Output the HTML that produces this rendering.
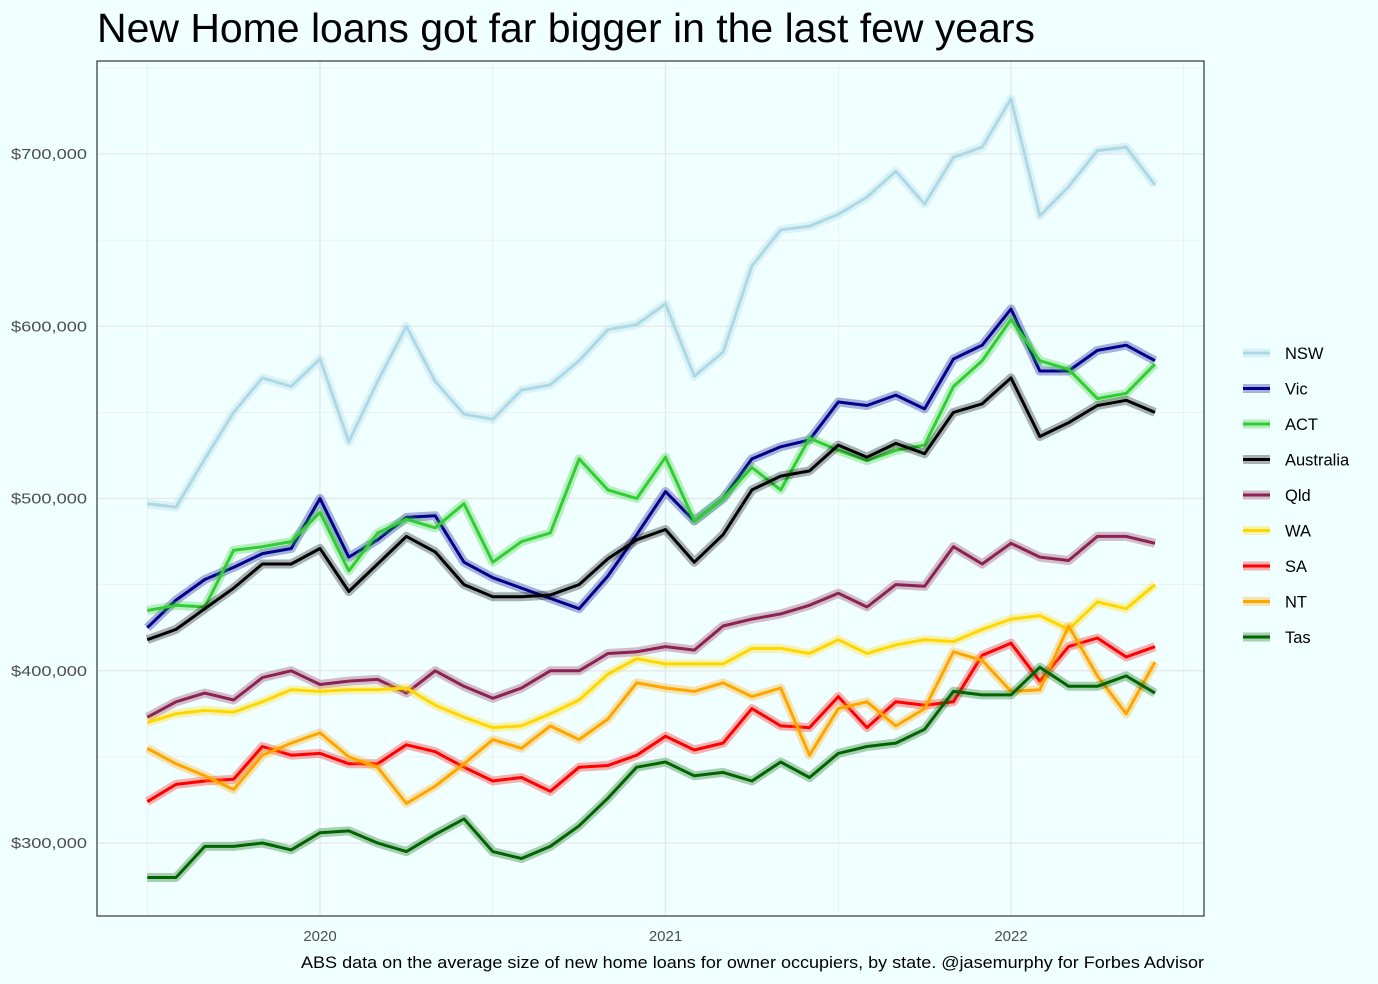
<!DOCTYPE html>
<html><head><meta charset="utf-8"><style>
body{margin:0;background:#f0ffff;}
svg{display:block;font-family:"Liberation Sans",sans-serif;}
</style></head><body>
<svg id="chart" width="1378" height="984" viewBox="0 0 1378 984" xmlns="http://www.w3.org/2000/svg">
<rect width="1378" height="984" fill="#f0ffff"/>
<text x="97" y="42" font-size="41" textLength="938" lengthAdjust="spacingAndGlyphs" fill="#000">New Home loans got far bigger in the last few years</text>
<g id="grid"></g>
<g id="series"></g>
<rect x="97" y="61" width="1107" height="855" fill="none" stroke="#333" stroke-width="1.2"/>
<g id="axes"></g>
<g id="legend"></g>
<text x="301" y="968" font-size="17" textLength="903" lengthAdjust="spacingAndGlyphs" fill="#000">ABS data on the average size of new home loans for owner occupiers, by state. @jasemurphy for Forbes Advisor</text>
</svg>
<script>
const seriesNames = ["NSW","Vic","ACT","Australia","Qld","WA","SA","NT","Tas"];
const seriesColors = ["#add8e6","#00008b","#32cd32","#000000","#8b2252","#ffd700","#ff0000","#ffa500","#006400"];
const startYear = 2019, startMonth = 7;
const yTicks = [300000,400000,500000,600000,700000];
const yTickLabels = ["$300,000","$400,000","$500,000","$600,000","$700,000"];
const xTickYears = [2020,2021,2022];
const NSW = [497,495,523,550,570,565,581,533,568,600,568,549,546,563,566,580,598,601,613,571,585,635,656,658,665,675,690,671,698,704,732,664,681,702,704,682];
const Vic = [425,441,453,460,468,471,500,466,476,489,490,463,454,448,442,436,455,479,504,487,500,523,530,534,556,554,560,552,581,589,610,574,574,586,589,580];
const ACT = [435,438,437,470,472,475,492,458,480,488,483,497,463,475,480,523,505,500,524,487,500,518,505,535,528,522,528,531,565,580,604,580,575,558,561,578];
const Australia = [418,424,436,448,462,462,471,446,462,478,469,450,443,443,444,450,465,476,482,463,479,505,513,516,531,524,532,526,550,555,570,536,544,554,557,550];
const Qld = [373,382,387,383,396,400,392,394,395,387,400,391,384,390,400,400,410,411,414,412,426,430,433,438,445,437,450,449,472,462,474,466,464,478,478,474];
const WA = [370,375,377,376,382,389,388,389,389,390,380,373,367,368,375,383,398,407,404,404,404,413,413,410,418,410,415,418,417,424,430,432,424,440,436,450];
const SA = [324,334,336,337,356,351,352,346,346,357,353,344,336,338,330,344,345,351,362,354,358,378,368,367,385,367,382,380,382,409,416,394,414,419,408,414];
const NT = [355,346,339,331,351,358,364,350,344,323,333,346,360,355,368,360,372,393,390,388,393,385,390,351,378,382,368,378,411,406,388,389,426,397,375,405];
const Tas = [280,280,298,298,300,296,306,307,300,295,305,314,295,291,298,310,326,344,347,339,341,336,347,338,352,356,358,366,388,386,386,402,391,391,397,387];
const seriesData = [NSW,Vic,ACT,Australia,Qld,WA,SA,NT,Tas];

const NS="http://www.w3.org/2000/svg";
function xMonths(m){return 320 + m*(1011-320)/24;}
function xIdx(i){return xMonths(i + (startYear-2020)*12 + (startMonth-1));}
function yVal(v){return 843 - (v-300000)*(843-154)/400000;}
function mk(tag,attrs,parent){const e=document.createElementNS(NS,tag);for(const k in attrs)e.setAttribute(k,attrs[k]);parent.appendChild(e);return e;}

const grid=document.getElementById('grid'), axes=document.getElementById('axes');
mk('rect',{x:97,y:61,width:1107,height:855,fill:'#f0ffff'},grid);
for(let v=250000;v<=750000;v+=50000){
  const y=yVal(v); if(y<61||y>916) continue;
  const l=mk('line',{x1:97,x2:1204,y1:y,y2:y,stroke:'#e6e6ea','stroke-width':v%100000===0?1.2:0.6},grid);
  
  
}
for(let m=-6;m<=30;m+=6){
  const x=xMonths(m);
  const l=mk('line',{x1:x,x2:x,y1:61,y2:916,stroke:'#e6e6ea','stroke-width':m%12===0?1.2:0.6},grid);
  
  
}
yTicks.forEach((v,i)=>{
  const t=mk('text',{x:87,y:yVal(v)+5,'font-size':15,textLength:76,lengthAdjust:'spacingAndGlyphs','text-anchor':'end',fill:'#4d4d4d'},axes);
  t.textContent=yTickLabels[i];
  
  
});
xTickYears.forEach(yr=>{
  const t=mk('text',{x:xMonths((yr-2020)*12),y:941,'font-size':15,'text-anchor':'middle',fill:'#4d4d4d'},axes);
  t.textContent=String(yr);
  
  
});
const sg=document.getElementById('series');
seriesData.forEach((d,s)=>{
  const pts=d.map((v,i)=>xIdx(i).toFixed(1)+','+yVal(v*1000).toFixed(1)).join(' ');
  const g=mk('g',{},sg);
  
  
  mk('polyline',{points:pts,fill:'none',stroke:seriesColors[s],'stroke-width':9,'stroke-opacity':0.3,'stroke-linejoin':'round'},g);
  const p=mk('polyline',{points:pts,fill:'none',stroke:seriesColors[s],'stroke-width':3,'stroke-linejoin':'round'},g);
  
  
});
const lg=document.getElementById('legend');
seriesNames.forEach((n,i)=>{
  const y=353+i*35.5;
  const g=mk('g',{},lg);
  
  
  mk('line',{x1:1243,x2:1270,y1:y,y2:y,stroke:seriesColors[i],'stroke-width':9,'stroke-opacity':0.3},g);
  mk('line',{x1:1243,x2:1270,y1:y,y2:y,stroke:seriesColors[i],'stroke-width':3},g);
  const t=mk('text',{x:1285,y:y+6,'font-size':16.5,fill:'#000'},g);
  t.textContent=n;
});
</script>
</body></html>
